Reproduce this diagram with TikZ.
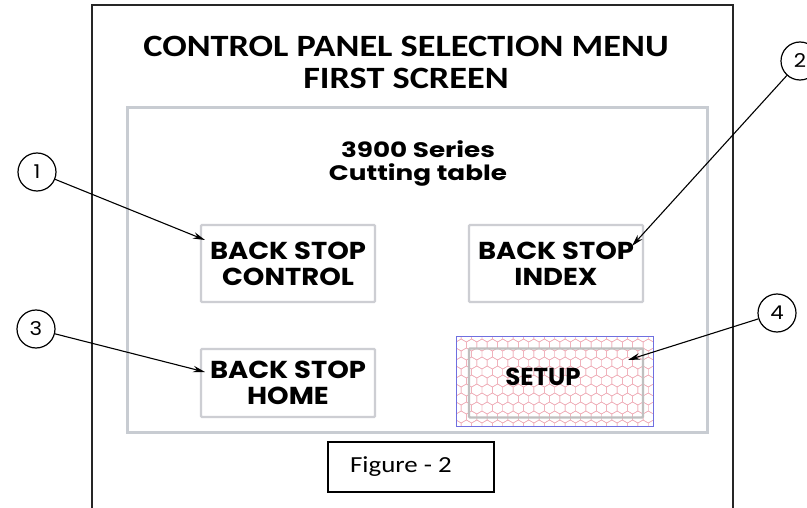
\documentclass[tikz,border=0pt]{standalone}
\usepackage{fontspec}
\setmainfont{Carlito}[FakeStretch=1.17]
\newfontfamily\gothic{Poppins}[FakeStretch=1.12]
\newfontfamily\gothicwide{Poppins}[FakeStretch=1.25]
\newfontfamily\gothicplain{Poppins}
\usetikzlibrary{arrows.meta}
\definecolor{panelgrey}{HTML}{C8CCD2}
\definecolor{btngrey}{HTML}{CDCED3}
\definecolor{hexred}{HTML}{EFA9B4}
\definecolor{hexblue}{HTML}{6F6FE0}
\tikzset{
  frame/.style={draw=black!85, line width=1.8pt},
  panel/.style={draw=panelgrey, line width=3pt},
  button/.style={draw=btngrey, line width=2.4pt, rounded corners=1pt,
    minimum width=174pt, align=center, font=\gothic\bfseries\fontsize{24.5}{26}\selectfont},
  callout/.style={draw=black, line width=1.2pt, circle, minimum size=38pt, inner sep=0pt,
    font=\gothic\fontsize{19}{19}\selectfont},
  leader/.style={draw=black, line width=1.1pt, -{Stealth[length=12pt,width=6.5pt]}},
  hexline/.style={draw=hexred, line width=0.45pt},
}
\begin{document}
\begin{tikzpicture}[x=1pt, y=-1pt]
\useasboundingbox[fill=white] (0,0) rectangle (807,508);

% outer screen frame (open at the bottom)
\draw[frame] (92,508) -- (92,5) -- (733,5) -- (733,508);

% heading
\node[font=\bfseries\fontsize{31}{32}\selectfont, align=center] (title) at (406,62)
  {CONTROL PANEL SELECTION MENU\\FIRST SCREEN};

% menu panel
\draw[panel] (127,108) rectangle (707,432);
\node[font=\gothicwide\bfseries\fontsize{21}{23}\selectfont, align=center] (series) at (418,163)
  {3900 Series\\Cutting table};

% SETUP button: honeycomb highlight
\begin{scope}
  \clip (456,336) rectangle (653,426);
  \foreach \j in {0,...,11} {
    \foreach \i in {-1,...,19} {
      \pgfmathsetmacro\cx{456+\i*10.392+mod(\j,2)*5.196}
      \pgfmathsetmacro\cy{336+\j*9}
      \draw[hexline] (\cx,\cy) +(30:6) -- +(90:6) -- +(150:6) -- +(210:6) -- +(270:6) -- +(330:6) -- cycle;
    }
  }
\end{scope}
\draw[draw=hexblue, line width=0.8pt] (456,336) rectangle (653,426);

% buttons
\node[button, minimum height=77pt] (control) at (288,263.5) {BACK STOP\\CONTROL};
\node[button, minimum height=77pt] (index) at (556,263.5) {BACK STOP\\INDEX};
\node[button, minimum height=68pt] (home) at (288,383) {BACK STOP\\HOME};
\node[button, draw=black!25, minimum height=69pt] (setup) at (556,383) {};
\node[font=\gothicplain\bfseries\fontsize{24.5}{26}\selectfont] (setuplabel) at (543,377) {SETUP};

% figure caption
\node[draw=black, line width=1.6pt, minimum width=166pt, minimum height=50pt] (fig) at (411,467) {};
\node[font=\fontsize{23}{23}\selectfont] (figlabel) at (401,467) {Figure - 2};

% callouts
\node[callout] (c1) at (37,172) {1};
\node[callout] (c2) at (800,61) {2};
\node[callout] (c3) at (36,329) {3};
\node[callout] (c4) at (777,313) {4};

\coordinate (t1) at (205,240);
\coordinate (t2) at (632,246);
\coordinate (t3) at (205,372);
\coordinate (t4) at (628,360);

\draw[leader] (c1) -- (t1);
\draw[leader] (c2) -- (t2);
\draw[leader] (c3) -- (t3);
\draw[leader] (c4) -- (t4);
\end{tikzpicture}
\end{document}
